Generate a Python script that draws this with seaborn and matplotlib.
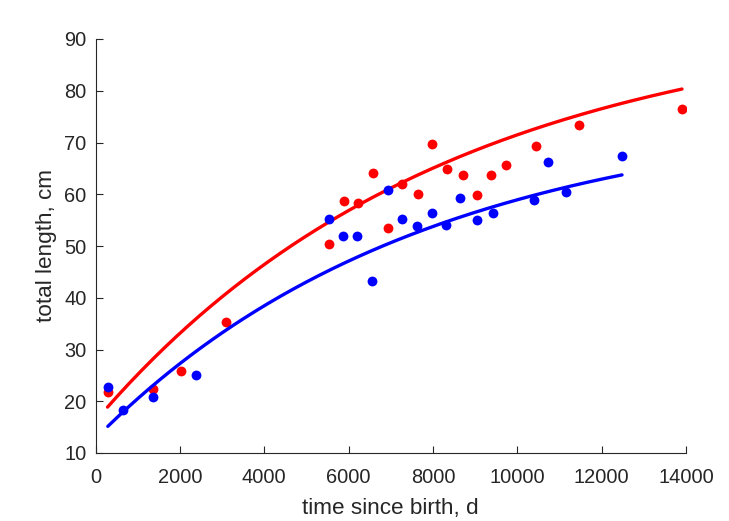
import numpy as np
import pandas as pd
import matplotlib
matplotlib.use("Agg")
import matplotlib.pyplot as plt
import seaborn as sns

# Data
red_t = [285, 1352, 2017, 3085, 5537, 5893, 6225, 6574, 6946, 7269, 7649, 7981,
         8329, 8716, 9041, 9365, 9737, 10443, 11463, 13905]
red_L = [21.7, 22.3, 25.8, 35.3, 50.4, 58.7, 58.3, 64.2, 53.5, 61.9, 60.1, 69.7,
         64.8, 63.7, 59.9, 63.7, 65.7, 69.3, 73.3, 76.5]
blue_t = [292, 648, 1352, 2373, 5530, 5878, 6210, 6558, 6937, 7269, 7633, 7981,
          8313, 8653, 9041, 9413, 10401, 10733, 11155, 12483]
blue_L = [22.8, 18.3, 20.8, 25.0, 55.2, 51.9, 51.9, 43.3, 60.8, 55.3, 53.8, 56.3,
          54.0, 59.3, 55.1, 56.4, 58.8, 66.3, 60.4, 67.3]

# von Bertalanffy growth curve parameters (Linf, L0, k)
red_par = (95.0, 16.2, 1.209e-4)
blue_par = (76.5, 12.8, 1.288e-4)

xticks = [0, 2000, 4000, 6000, 8000, 10000, 12000, 14000]
yticks = [10, 20, 30, 40, 50, 60, 70, 80, 90]


def vb_curve(t, par):
    Linf, L0, k = par
    return Linf - (Linf - L0) * np.exp(-k * t)


sns.set_style("white")
plt.rcParams['font.family'] = ['Liberation Sans', 'DejaVu Sans']

fig = plt.figure(figsize=(7.29, 5.21), dpi=100)
ax = fig.add_axes([95.5 / 729, (521 - 453) / 521, (686 - 95.5) / 729, (453 - 39) / 521])

dark = (0.15, 0.15, 0.15)

red_df = pd.DataFrame({"t": red_t, "L": red_L})
blue_df = pd.DataFrame({"t": blue_t, "L": blue_L})

tr = np.linspace(min(red_t), max(red_t), 200)
tb = np.linspace(min(blue_t), max(blue_t), 200)
red_curve = pd.DataFrame({"t": tr, "L": vb_curve(tr, red_par)})
blue_curve = pd.DataFrame({"t": tb, "L": vb_curve(tb, blue_par)})

sns.scatterplot(data=red_df, x="t", y="L", color=(1, 0, 0), s=50, linewidth=0, ax=ax, zorder=2)
sns.lineplot(data=red_curve, x="t", y="L", color=(1, 0, 0), linewidth=2.4, ax=ax, zorder=3)
sns.scatterplot(data=blue_df, x="t", y="L", color=(0, 0, 1), s=50, linewidth=0, ax=ax, zorder=4)
sns.lineplot(data=blue_curve, x="t", y="L", color=(0, 0, 1), linewidth=2.4, ax=ax, zorder=5)

ax.set_xlim(0, 14000)
ax.set_ylim(10, 90)
ax.set_xticks(xticks)
ax.set_yticks(yticks)
ax.set_xticklabels([str(v) for v in xticks])
ax.set_yticklabels([str(v) for v in yticks])

ax.spines['top'].set_visible(False)
ax.spines['right'].set_visible(False)
for s in ('left', 'bottom'):
    ax.spines[s].set_color(dark)
    ax.spines[s].set_linewidth(0.8)

ax.tick_params(direction='in', length=5, width=0.8, color=dark, labelcolor=dark,
               labelsize=14.4, left=True, bottom=True)
ax.tick_params(axis='x', pad=10.5)
ax.tick_params(axis='y', pad=6.5)

ax.set_xlabel("time since birth, d", fontsize=16.2, color=dark, labelpad=8)
ax.set_ylabel("total length, cm", fontsize=16.2, color=dark, labelpad=5)

fig.savefig("out.png", dpi=100)
